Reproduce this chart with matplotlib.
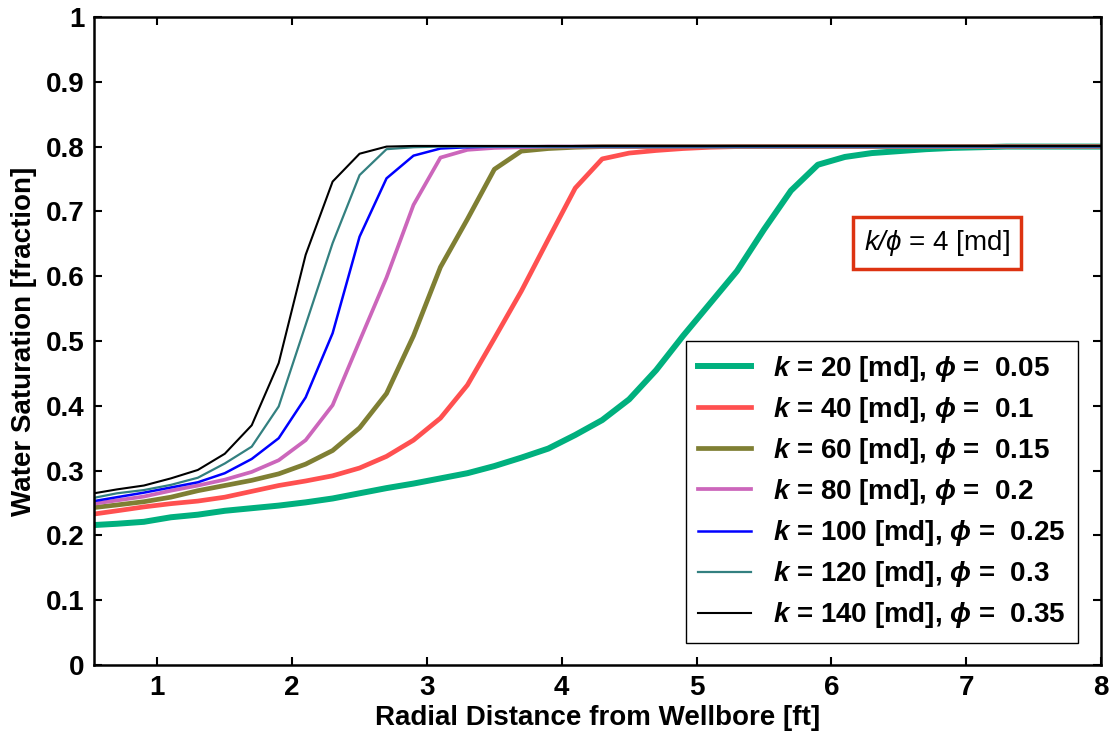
import numpy as np
import matplotlib
matplotlib.use("Agg")
import matplotlib.pyplot as plt

plt.rcParams['font.family'] = ['Liberation Sans', 'DejaVu Sans']
plt.rcParams['mathtext.fontset'] = 'custom'
plt.rcParams['mathtext.rm'] = 'Liberation Sans:bold'
plt.rcParams['mathtext.it'] = 'Liberation Sans:italic:bold'
plt.rcParams['mathtext.bf'] = 'Liberation Sans:bold'
plt.rcParams['mathtext.sf'] = 'Liberation Sans:italic'
plt.rcParams['mathtext.fallback'] = 'stixsans'

# radial distance [ft]
r = [0.53, 0.7, 0.9, 1.1, 1.3, 1.5, 1.7, 1.9, 2.1, 2.3, 2.5, 2.7, 2.9, 3.1, 3.3,
     3.5, 3.7, 3.9, 4.1, 4.3, 4.5, 4.7, 4.9, 5.1, 5.3, 5.5, 5.7, 5.9, 6.1, 6.3,
     6.5, 6.7, 6.9, 7.1, 7.3, 7.5, 7.7, 7.9, 8.0]

# water saturation for each case
sw_k20 = [0.216, 0.218, 0.221, 0.228, 0.232, 0.238, 0.242, 0.246, 0.251, 0.257, 0.265,
          0.273, 0.280, 0.288, 0.296, 0.307, 0.320, 0.334, 0.355, 0.378, 0.410, 0.455,
          0.508, 0.558, 0.608, 0.672, 0.732, 0.772, 0.784, 0.790, 0.793, 0.796, 0.798,
          0.799, 0.800, 0.800, 0.800, 0.800, 0.800]
sw_k40 = [0.233, 0.238, 0.244, 0.249, 0.253, 0.259, 0.268, 0.277, 0.284, 0.292, 0.304,
          0.322, 0.347, 0.381, 0.432, 0.504, 0.577, 0.657, 0.736, 0.781, 0.790, 0.794,
          0.797, 0.799, 0.800, 0.800, 0.800, 0.800, 0.800, 0.800, 0.800, 0.800, 0.800,
          0.800, 0.800, 0.800, 0.800, 0.800, 0.800]
sw_k60 = [0.243, 0.247, 0.252, 0.259, 0.269, 0.277, 0.285, 0.295, 0.310, 0.331, 0.366,
          0.419, 0.508, 0.614, 0.688, 0.765, 0.793, 0.797, 0.799, 0.800, 0.800, 0.800,
          0.800, 0.800, 0.800, 0.800, 0.800, 0.800, 0.800, 0.800, 0.800, 0.800, 0.800,
          0.800, 0.800, 0.800, 0.800, 0.800, 0.800]
sw_k80 = [0.249, 0.254, 0.260, 0.269, 0.277, 0.286, 0.298, 0.316, 0.347, 0.401, 0.500,
          0.598, 0.710, 0.783, 0.795, 0.798, 0.799, 0.800, 0.800, 0.800, 0.800, 0.800,
          0.800, 0.800, 0.800, 0.800, 0.800, 0.800, 0.800, 0.800, 0.800, 0.800, 0.800,
          0.800, 0.800, 0.800, 0.800, 0.800, 0.800]
sw_k100 = [0.253, 0.259, 0.266, 0.274, 0.282, 0.296, 0.318, 0.350, 0.413, 0.512, 0.661,
           0.751, 0.786, 0.797, 0.799, 0.800, 0.800, 0.800, 0.800, 0.800, 0.800, 0.800,
           0.800, 0.800, 0.800, 0.800, 0.800, 0.800, 0.800, 0.800, 0.800, 0.800, 0.800,
           0.800, 0.800, 0.800, 0.800, 0.800, 0.800]
sw_k120 = [0.258, 0.265, 0.270, 0.278, 0.289, 0.311, 0.337, 0.399, 0.525, 0.651, 0.756,
           0.796, 0.799, 0.800, 0.800, 0.800, 0.800, 0.800, 0.800, 0.800, 0.800, 0.800,
           0.800, 0.800, 0.800, 0.800, 0.800, 0.800, 0.800, 0.800, 0.800, 0.800, 0.800,
           0.800, 0.800, 0.800, 0.800, 0.800, 0.800]
sw_k140 = [0.265, 0.271, 0.277, 0.288, 0.301, 0.326, 0.370, 0.466, 0.633, 0.746, 0.789,
           0.800, 0.801, 0.801, 0.801, 0.801, 0.801, 0.801, 0.801, 0.801, 0.801, 0.801,
           0.801, 0.801, 0.801, 0.801, 0.801, 0.801, 0.801, 0.801, 0.801, 0.801, 0.801,
           0.801, 0.801, 0.801, 0.801, 0.801, 0.801]

perm = [20, 40, 60, 80, 100, 120, 140]
poro = ['0.05', '0.1', '0.15', '0.2', '0.25', '0.3', '0.35']
series = [sw_k20, sw_k40, sw_k60, sw_k80, sw_k100, sw_k120, sw_k140]
colors = ['#00B07E', '#FF5050', '#7F7F33', '#CC66BB', '#0000FF', '#338080', '#000000']
widths = [4.3, 3.4, 3.4, 2.7, 1.8, 1.6, 1.5]

fig = plt.figure(figsize=(11.14, 7.35), dpi=100)
ax = fig.add_axes([0.0844, 0.0952, 0.9039, 0.8817])

for k, p, sw, c, lw in zip(perm, poro, series, colors, widths):
    ax.plot(r, sw, color=c, lw=lw,
            label=r'$k$ = %d [md], $\phi$ =  %s' % (k, p))

ax.set_xlim(0.53, 8)
ax.set_ylim(0, 1)
ax.set_xticks([1, 2, 3, 4, 5, 6, 7, 8])
ax.set_yticks(np.arange(0, 1.01, 0.1))
ax.set_yticklabels(['0', '0.1', '0.2', '0.3', '0.4', '0.5', '0.6', '0.7', '0.8', '0.9', '1'])
ax.tick_params(direction='in', top=True, right=True, length=6, width=1.5,
               labelsize=20, pad=7)
for lab in ax.get_xticklabels() + ax.get_yticklabels():
    lab.set_fontweight('bold')
for s in ax.spines.values():
    s.set_linewidth(1.8)

ax.set_xlabel('Radial Distance from Wellbore [ft]', fontsize=20, fontweight='bold', labelpad=3)
ax.set_ylabel('Water Saturation [fraction]', fontsize=20, fontweight='bold', labelpad=6)

leg = ax.legend(loc='lower right', bbox_to_anchor=(0.977, 0.034), borderaxespad=0,
                prop={'size': 20, 'weight': 'bold'}, handlelength=1.9, handletextpad=0.8,
                labelspacing=0.4, fancybox=False, edgecolor='black', framealpha=1,
                borderpad=0.45)
leg.get_frame().set_linewidth(1.0)

ax.text(6.78, 0.651, r'$\mathsf{k/\phi}$ = 4 [md]', fontsize=20, ha='center', va='center',
        bbox=dict(boxstyle='square,pad=0.4', fc='white', ec='#DD3311', lw=2.5))

fig.savefig('out.png', dpi=100)
